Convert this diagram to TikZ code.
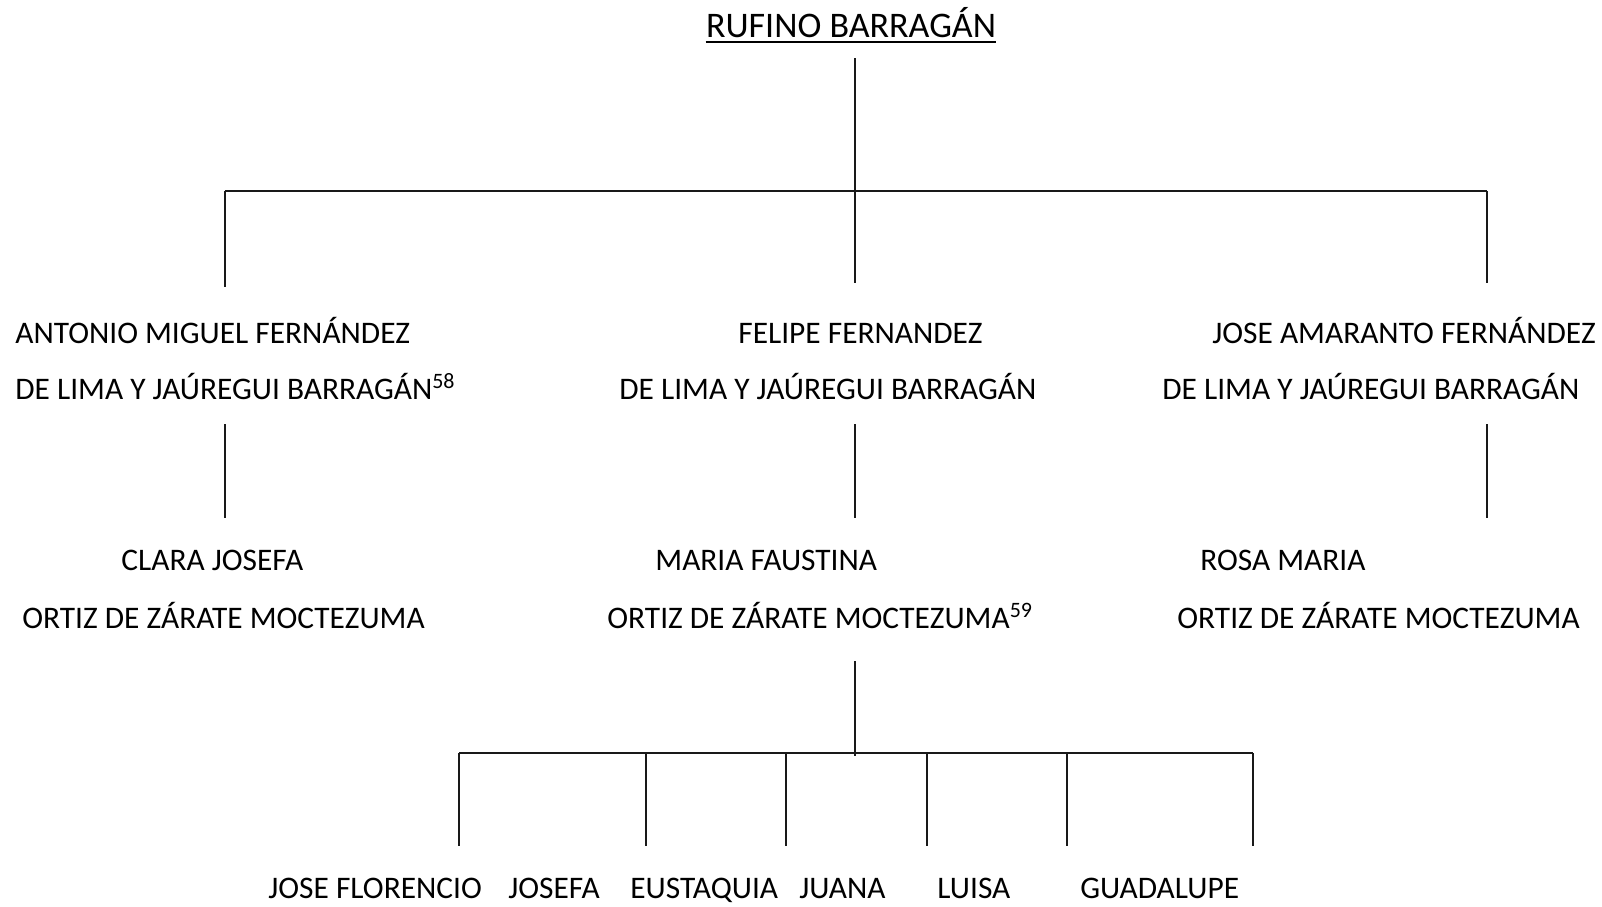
\documentclass[tikz,border=0pt]{standalone}
\usepackage{fontspec}
\setmainfont{Carlito}
\usetikzlibrary{positioning}

\begin{document}
\begin{tikzpicture}[x=0.5pt, y=-0.5pt,
  person/.style={anchor=base west, inner sep=0pt, font=\fontsize{15.7}{18}\selectfont},
  head/.style={anchor=base, inner sep=0pt, font=\fontsize{18}{21}\selectfont},
  link/.style={line width=1pt, color=black!90},
]
\useasboundingbox (0,0) rectangle (1602,906);

%% --- Root ---
\node[head] (rufino) at (851,37) {RUFINO BARRAGÁN};
\draw[line width=1pt] ([yshift=-2.6pt]rufino.base west) -- ([yshift=-2.6pt]rufino.base east);

%% --- Children of Rufino ---
\node[person] (antonioA) at (15,343) {ANTONIO MIGUEL FERNÁNDEZ};
\node[person] (antonioB) at (15,399) {DE LIMA Y JAÚREGUI BARRAGÁN\textsuperscript{58}};
\node[person] (felipeA) at (738,343) {FELIPE FERNANDEZ};
\node[person] (felipeB) at (619,399) {DE LIMA Y JAÚREGUI BARRAGÁN};
\node[person] (joseA) at (1212,343) {JOSE AMARANTO FERNÁNDEZ};
\node[person] (joseB) at (1162,399) {DE LIMA Y JAÚREGUI BARRAGÁN};

%% --- Spouses ---
\node[person] (claraA) at (121,570) {CLARA JOSEFA};
\node[person] (claraB) at (22,628) {ORTIZ DE ZÁRATE MOCTEZUMA};
\node[person] (mariaA) at (655,570) {MARIA FAUSTINA};
\node[person] (mariaB) at (607,628) {ORTIZ DE ZÁRATE MOCTEZUMA\textsuperscript{59}};
\node[person] (rosaA) at (1200,570) {ROSA MARIA};
\node[person] (rosaB) at (1177,628) {ORTIZ DE ZÁRATE MOCTEZUMA};

%% --- Grandchildren ---
\node[person] (florencio) at (268,898) {JOSE FLORENCIO};
\node[person] (josefa) at (508,898) {JOSEFA};
\node[person] (eustaquia) at (630,898) {EUSTAQUIA};
\node[person] (juana) at (799,898) {JUANA};
\node[person] (luisa) at (937,898) {LUISA};
\node[person] (guadalupe) at (1080,898) {GUADALUPE};

%% --- Tree from Rufino ---
\coordinate (rootTop) at (855,58);
\coordinate (barM) at (855,191);
\coordinate (barL) at (225,191);
\coordinate (barR) at (1487,191);
\coordinate (dropL) at (225,287);
\coordinate (dropM) at (855,283);
\coordinate (dropR) at (1487,283);
\draw[link] (rootTop) -- (barM);
\draw[link] (barL) -- (barR);
\draw[link] (barL) -- (dropL);
\draw[link] (barM) -- (dropM);
\draw[link] (barR) -- (dropR);

%% --- Marriages ---
\foreach \x/\n in {225/L, 855/M, 1487/R}{
  \coordinate (wedTop\n) at (\x,424);
  \coordinate (wedEnd\n) at (\x,518);
  \draw[link] (wedTop\n) -- (wedEnd\n);
}

%% --- Children of Maria Faustina ---
\coordinate (kidsTop) at (855,661);
\coordinate (kidsBar) at (855,756);
\coordinate (kidsL) at (459,753);
\coordinate (kidsR) at (1253,753);
\draw[link] (kidsTop) -- (kidsBar);
\draw[link] (kidsL) -- (kidsR);
\foreach \x [count=\i] in {459,646,786,927,1067,1253}{
  \coordinate (kidT\i) at (\x,753);
  \coordinate (kidB\i) at (\x,846);
  \draw[link] (kidT\i) -- (kidB\i);
}
\end{tikzpicture}
\end{document}
